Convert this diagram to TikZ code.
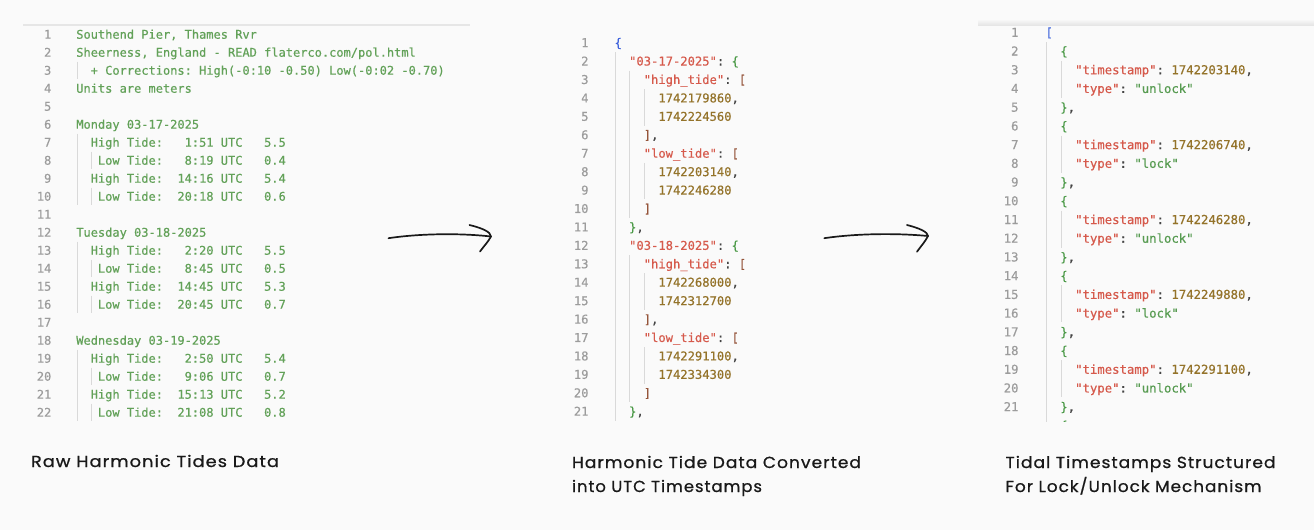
\documentclass[tikz,border=0pt]{standalone}
\usepackage{fontspec}
\usepackage{graphicx}
\newfontfamily\cmono{DejaVu Sans Mono}[FakeBold=0.5]
\newfontfamily\capfont{Poppins}[LetterSpace=6,FakeBold=0.8]
\definecolor{bgc}{HTML}{FAFAFA}
\definecolor{clno}{HTML}{9C9C9C}
\definecolor{cplain}{HTML}{62A158}
\definecolor{ckey}{HTML}{D65A4C}
\definecolor{cnum}{HTML}{94732A}
\definecolor{cpun}{HTML}{444444}
\definecolor{cstr}{HTML}{579B51}
\definecolor{cbl}{HTML}{3E62DC}
\definecolor{cgb}{HTML}{4C9A48}
\definecolor{crb}{HTML}{95553A}
\definecolor{cgd}{HTML}{D9D9D9}
\definecolor{cedge}{HTML}{E6E6E6}
\newcommand\jK[1]{\textcolor{ckey}{#1}}
\newcommand\jN[1]{\textcolor{cnum}{#1}}
\newcommand\jP[1]{\textcolor{cpun}{#1}}
\newcommand\jS[1]{\textcolor{cstr}{#1}}
\newcommand\jB[1]{\textcolor{cbl}{#1}}
\newcommand\jG[1]{\textcolor{cgb}{#1}}
\newcommand\jR[1]{\textcolor{crb}{#1}}
\newcommand\codeln[3]{%
  \node[lnumtxt] (#1n#2) at (\PN,{\PB+(#2-1)*\PD}) {#2};
  \node[codetxt] (#1c#2) at (\PX,{\PB+(#2-1)*\PD}) {#3};}
\newcommand\indg[3]{%
  \draw[indguide] ({\PX+#1*\PW+0.7},{\PC+(#2-1)*\PD-0.48*\PD}) -- ({\PX+#1*\PW+0.7},{\PC+(#3-1)*\PD+0.5*\PD});}
\frenchspacing
\begin{document}
\begin{tikzpicture}[x=1pt,y=-1pt,
  indguide/.style={draw=cgd,line width=0.8pt},
  handline/.style={draw=black!90,line width=1.7pt,line cap=round,line join=round},
  capt/.style={font=\fontsize{16}{18}\selectfont\capfont,text=black!90,inner sep=0pt,outer sep=0pt,anchor=base west}]
\useasboundingbox (0,0) rectangle (1314,530);
\fill[bgc] (0,0) rectangle (1314,530);

% panel edges
\draw[cedge,line width=1.4pt] (23,25) -- (470,25);
\shade[top color=bgc,bottom color=black!10] (978,19) rectangle (1314,25);
\draw[cedge,line width=1pt] (978,25.2) -- (1314,25.2);

% ---------------- left panel
\begin{scope}[codetxt/.style={font=\fontsize{12}{14}\selectfont\cmono,text=cplain,inner sep=0pt,outer sep=0pt,anchor=base west},
  lnumtxt/.style={font=\fontsize{12}{14}\selectfont\cmono,text=clno,inner sep=0pt,outer sep=0pt,anchor=base east}]
\def\PX{76.3}\def\PW{7.224}\def\PC{34.3}\def\PB{38.7}\def\PD{18}\def\PN{51.3}
\indg{0}{3}{3}\indg{0}{7}{10}\indg{2}{8}{8}\indg{2}{10}{10}
\indg{0}{13}{16}\indg{2}{14}{14}\indg{2}{16}{16}
\indg{0}{19}{22}\indg{2}{20}{20}\indg{2}{22}{22}
\codeln{L}{1}{Southend Pier, Thames Rvr}
\codeln{L}{2}{Sheerness, England - READ flaterco.com/pol.html}
\codeln{L}{3}{~~+ Corrections: High(-0:10 -0.50) Low(-0:02 -0.70)}
\codeln{L}{4}{Units are meters}
\codeln{L}{5}{}
\codeln{L}{6}{Monday 03-17-2025}
\codeln{L}{7}{~~High Tide:~~~1:51 UTC~~~5.5}
\codeln{L}{8}{~~~Low Tide:~~~8:19 UTC~~~0.4}
\codeln{L}{9}{~~High Tide:~~14:16 UTC~~~5.4}
\codeln{L}{10}{~~~Low Tide:~~20:18 UTC~~~0.6}
\codeln{L}{11}{}
\codeln{L}{12}{Tuesday 03-18-2025}
\codeln{L}{13}{~~High Tide:~~~2:20 UTC~~~5.5}
\codeln{L}{14}{~~~Low Tide:~~~8:45 UTC~~~0.5}
\codeln{L}{15}{~~High Tide:~~14:45 UTC~~~5.3}
\codeln{L}{16}{~~~Low Tide:~~20:45 UTC~~~0.7}
\codeln{L}{17}{}
\codeln{L}{18}{Wednesday 03-19-2025}
\codeln{L}{19}{~~High Tide:~~~2:50 UTC~~~5.4}
\codeln{L}{20}{~~~Low Tide:~~~9:06 UTC~~~0.7}
\codeln{L}{21}{~~High Tide:~~15:13 UTC~~~5.2}
\codeln{L}{22}{~~~Low Tide:~~21:08 UTC~~~0.8}
\end{scope}

% ---------------- middle panel
\begin{scope}[codetxt/.style={font=\fontsize{12.15}{14}\selectfont\cmono,text=cpun,inner sep=0pt,outer sep=0pt,anchor=base west},
  lnumtxt/.style={font=\fontsize{12.15}{14}\selectfont\cmono,text=clno,inner sep=0pt,outer sep=0pt,anchor=base east}]
\def\PX{614.5}\def\PW{7.314}\def\PC{42.7}\def\PB{47.1}\def\PD{18.43}\def\PN{588.5}
\indg{0}{2}{21}\indg{2}{3}{10}\indg{4}{4}{5}\indg{4}{8}{9}
\indg{2}{13}{20}\indg{4}{14}{15}\indg{4}{18}{19}
\codeln{M}{1}{\jB{\{}}
\codeln{M}{2}{~~\jK{"03-17-2025"}:~\jG{\{}}
\codeln{M}{3}{~~~~\jK{"high\_tide"}:~\jR{[}}
\codeln{M}{4}{~~~~~~\jN{1742179860},}
\codeln{M}{5}{~~~~~~\jN{1742224560}}
\codeln{M}{6}{~~~~\jR{]},}
\codeln{M}{7}{~~~~\jK{"low\_tide"}:~\jR{[}}
\codeln{M}{8}{~~~~~~\jN{1742203140},}
\codeln{M}{9}{~~~~~~\jN{1742246280}}
\codeln{M}{10}{~~~~\jR{]}}
\codeln{M}{11}{~~\jG{\}},}
\codeln{M}{12}{~~\jK{"03-18-2025"}:~\jG{\{}}
\codeln{M}{13}{~~~~\jK{"high\_tide"}:~\jR{[}}
\codeln{M}{14}{~~~~~~\jN{1742268000},}
\codeln{M}{15}{~~~~~~\jN{1742312700}}
\codeln{M}{16}{~~~~\jR{]},}
\codeln{M}{17}{~~~~\jK{"low\_tide"}:~\jR{[}}
\codeln{M}{18}{~~~~~~\jN{1742291100},}
\codeln{M}{19}{~~~~~~\jN{1742334300}}
\codeln{M}{20}{~~~~\jR{]}}
\codeln{M}{21}{~~\jG{\}},}
\end{scope}

% ---------------- right panel
\begin{scope}[codetxt/.style={font=\fontsize{12.3}{14}\selectfont\cmono,text=cpun,inner sep=0pt,outer sep=0pt,anchor=base west},
  lnumtxt/.style={font=\fontsize{12.3}{14}\selectfont\cmono,text=clno,inner sep=0pt,outer sep=0pt,anchor=base east}]
\clip (960,0) rectangle (1314,421);
\def\PX{1045.5}\def\PW{7.405}\def\PC{32.3}\def\PB{36.8}\def\PD{18.72}\def\PN{1018.5}
\indg{0}{2}{22}\indg{2}{3}{4}\indg{2}{7}{8}\indg{2}{11}{12}\indg{2}{15}{16}\indg{2}{19}{20}
\codeln{R}{1}{\jB{[}}
\codeln{R}{2}{~~\jG{\{}}
\codeln{R}{3}{~~~~\jK{"timestamp"}:~\jN{1742203140},}
\codeln{R}{4}{~~~~\jK{"type"}:~\jS{"unlock"}}
\codeln{R}{5}{~~\jG{\}},}
\codeln{R}{6}{~~\jG{\{}}
\codeln{R}{7}{~~~~\jK{"timestamp"}:~\jN{1742206740},}
\codeln{R}{8}{~~~~\jK{"type"}:~\jS{"lock"}}
\codeln{R}{9}{~~\jG{\}},}
\codeln{R}{10}{~~\jG{\{}}
\codeln{R}{11}{~~~~\jK{"timestamp"}:~\jN{1742246280},}
\codeln{R}{12}{~~~~\jK{"type"}:~\jS{"unlock"}}
\codeln{R}{13}{~~\jG{\}},}
\codeln{R}{14}{~~\jG{\{}}
\codeln{R}{15}{~~~~\jK{"timestamp"}:~\jN{1742249880},}
\codeln{R}{16}{~~~~\jK{"type"}:~\jS{"lock"}}
\codeln{R}{17}{~~\jG{\}},}
\codeln{R}{18}{~~\jG{\{}}
\codeln{R}{19}{~~~~\jK{"timestamp"}:~\jN{1742291100},}
\codeln{R}{20}{~~~~\jK{"type"}:~\jS{"unlock"}}
\codeln{R}{21}{~~\jG{\}},}
\node[codetxt] (Rc22) at (\PX,{\PB+21*\PD}) {~~\jG{\{}};
\end{scope}

% ---------------- hand-drawn arrows
\coordinate (a1s) at (388.5,238.2);
\coordinate (a1t) at (491,236.5);
\coordinate (a1u) at (469.5,225);
\coordinate (a1l) at (480,251.5);
\draw[handline] (a1s) .. controls (420,233.5) and (460,233) .. (a1t);
\draw[handline] (a1u) .. controls (482,228) and (491,232) .. (a1t) .. controls (488,242) and (484,246) .. (a1l);
\coordinate (a2s) at (824.3,238.2);
\coordinate (a2t) at (928,236);
\coordinate (a2u) at (907,225);
\coordinate (a2l) at (917,251.7);
\draw[handline] (a2s) .. controls (856,233.5) and (896,233) .. (a2t);
\draw[handline] (a2u) .. controls (919,228) and (928,232) .. (a2t) .. controls (925,242) and (921,246) .. (a2l);

% ---------------- captions
\node[capt] (cap1) at (31,467) {\resizebox{248pt}{\height}{Raw Harmonic Tides Data}};
\node[capt] (cap2a) at (572,468) {\resizebox{289pt}{\height}{Harmonic Tide Data Converted}};
\node[capt] (cap2b) at (572,492) {\resizebox{190pt}{\height}{into UTC Timestamps}};
\node[capt] (cap3a) at (1005.5,468) {\resizebox{270pt}{\height}{Tidal Timestamps Structured}};
\node[capt] (cap3b) at (1005.5,492) {\resizebox{256pt}{\height}{For Lock/Unlock Mechanism}};
\end{tikzpicture}
\end{document}
